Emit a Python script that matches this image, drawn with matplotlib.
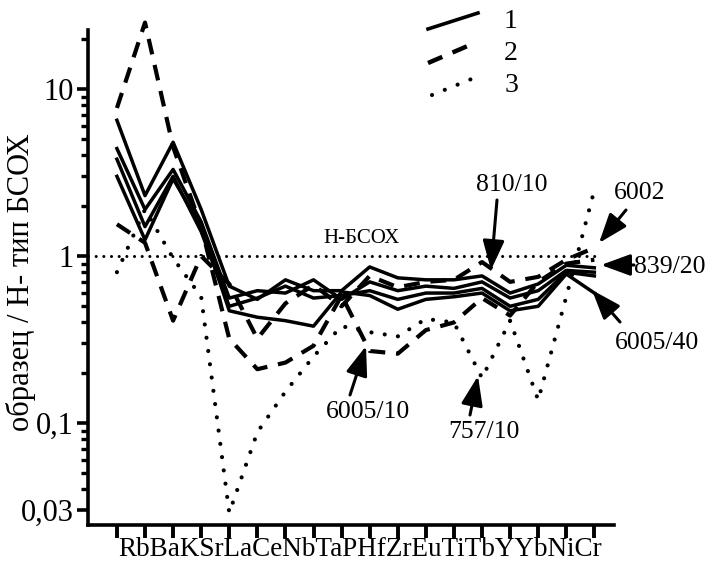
import matplotlib
matplotlib.use("Agg")
import matplotlib.pyplot as plt
from matplotlib.lines import Line2D
from matplotlib.ticker import FixedLocator, FixedFormatter, LogLocator, NullFormatter

plt.rcParams['font.family'] = ['Liberation Serif', 'DejaVu Serif']

categories = ["Rb", "Ba", "K", "Sr", "La", "Ce", "Nb", "Ta", "P", "Hf",
              "Zr", "Eu", "Ti", "Tb", "Y", "Yb", "Ni", "Cr"]

# type 1 (solid)
solid_1 = [6.5, 2.3, 4.8, 1.9, 0.66, 0.55, 0.72, 0.62, 0.62, 0.86, 0.74, 0.72, 0.72, 0.76, 0.60, 0.68, 0.88, 0.85]
solid_2 = [4.4, 1.9, 3.3, 1.6, 0.56, 0.62, 0.60, 0.72, 0.55, 0.70, 0.62, 0.66, 0.64, 0.70, 0.56, 0.62, 0.82, 0.80]
solid_3 = [3.8, 1.5, 3.0, 1.4, 0.50, 0.56, 0.66, 0.56, 0.58, 0.62, 0.55, 0.60, 0.60, 0.64, 0.50, 0.55, 0.80, 0.76]
solid_4 = [3.0, 1.25, 2.9, 1.5, 0.47, 0.43, 0.41, 0.38, 0.61, 0.58, 0.48, 0.55, 0.57, 0.60, 0.47, 0.50, 0.78, 0.60]
# type 2 (dashed)
dashed_1 = [7.7, 25.0, 4.5, 1.5, 0.32, 0.21, 0.23, 0.29, 0.58, 0.27, 0.26, 0.36, 0.40, 0.56, 0.44, 0.70, 0.90, 0.95]
dashed_2 = [1.55, 1.2, 0.41, 1.0, 0.68, 0.32, 0.52, 0.67, 0.50, 0.76, 0.65, 0.70, 0.72, 0.92, 0.70, 0.75, 0.95, 1.12]
# type 3 (dotted)
dotted_1 = [0.80, 1.9, 0.97, 0.57, 0.029, 0.088, 0.154, 0.25, 0.38, 0.35, 0.33, 0.42, 0.40, 0.186, 0.41, 0.137, 0.57, 2.48]

ref_value = 1.0
y_ticks = [0.03, 0.1, 1, 10]
y_tick_labels = ["0,03", "0,1", "1", "10"]

W, H = 707, 571
fig = plt.figure(figsize=(W / 100, H / 100), dpi=100)
ax = fig.add_axes([88 / W, 46 / H, (614 - 88) / W, (551 - 46) / H])
ax.set_yscale('log')
ax.set_ylim(0.0245, 25.9)
ax.set_xlim(-1.03, 17.7)

x = list(range(len(categories)))

for s in (solid_1, solid_2, solid_3, solid_4):
    ax.plot(x, s, color='black', lw=2.5, ls='-', clip_on=False, zorder=3)
for s in (dashed_1, dashed_2):
    ax.plot(x, s, color='black', lw=3.0, ls=(0, (3.8, 2.6)), dash_capstyle='butt', clip_on=False, zorder=3)
for s in (dotted_1,):
    ax.plot(x, s, color='black', lw=3.0, ls=(0, (0.01, 3.2)), dash_capstyle='round', clip_on=False, zorder=3)

# reference line
ax.plot([x[0] - 1.03, x[-1] + 0.1], [ref_value, ref_value], color='black', lw=2.2,
        ls=(0, (0.01, 2.5)), dash_capstyle='round', zorder=2)
ax.text(8.7, 1.12, "Н-БСОХ", fontsize=15, ha='center', va='bottom')

# spines
for side in ('top', 'right'):
    ax.spines[side].set_visible(False)
ax.spines['left'].set_linewidth(2.6)
ax.spines['bottom'].set_linewidth(2.6)
ax.spines['left'].set_bounds(0.0245, 22.5)

ax.xaxis.set_major_locator(FixedLocator(x))
ax.set_xticklabels([])
ax.tick_params(axis='x', direction='out', length=9, width=2.8)

ax.yaxis.set_major_locator(FixedLocator(y_ticks))
ax.yaxis.set_major_formatter(FixedFormatter(y_tick_labels))
ax.yaxis.set_minor_locator(LogLocator(base=10, subs=[2, 3, 4, 5, 6, 7, 8, 9]))
ax.yaxis.set_minor_formatter(NullFormatter())
ax.tick_params(axis='y', which='major', direction='out', length=8, width=2.6, labelsize=22, pad=2)
ax.tick_params(axis='y', which='minor', direction='out', length=5, width=2.4)

ax.set_ylabel("образец / Н- тип БСОХ", fontsize=22)
ax.yaxis.set_label_coords(-0.098, 0.48)

# x category string
fig.text(360 / W, 1 - 550 / H, "".join(categories), fontsize=19.5, ha='center', va='center')

# legend (hand-drawn style, tilted samples)
def fpx(px, py):
    return px / W, 1 - py / H

leg = [((428, 29), (478, 13), dict(ls='-', lw=2.6)),
       ((428, 63), (470, 45), dict(ls=(0, (3.5, 2.5)), lw=3.2, dash_capstyle='butt')),
       ((432, 95), (474, 78), dict(ls=(0, (0.01, 3.3)), lw=3.0, dash_capstyle='round'))]
for (p0, p1, kw), lab, ly in zip(leg, ["1", "2", "3"], [22, 54, 86]):
    a, b = fpx(*p0)
    c, d = fpx(*p1)
    fig.add_artist(Line2D([a, c], [b, d], color='black', transform=fig.transFigure, **kw))
    fig.text(*fpx(511, ly), lab, fontsize=20, ha='center', va='center')

# annotations
arrow_kw = dict(arrowstyle='-|>,head_length=1.5,head_width=0.55', mutation_scale=12,
                color='black', lw=2.2, shrinkA=0, shrinkB=0)
notes = [("810/10", (512, 185), (497, 200), (491, 270)),
         ("6002", (640, 193), (626, 210), (599, 243)),
         ("839/20", (670, 267), (634, 265), (601, 265)),
         ("6005/40", (657, 343), (620, 322), (592, 290)),
         ("757/10", (484, 432), (470, 415), (478, 376)),
         ("6005/10", (368, 412), (350, 395), (366, 346))]
for txt, tpos, start, tip in notes:
    fig.text(*fpx(*tpos), txt, fontsize=18.5, ha='center', va='center')
    ax.annotate('', xy=(tip[0], H - tip[1]), xycoords='figure pixels',
                xytext=(start[0], H - start[1]), textcoords='figure pixels',
                arrowprops=arrow_kw)

fig.savefig("out.png", dpi=100)
